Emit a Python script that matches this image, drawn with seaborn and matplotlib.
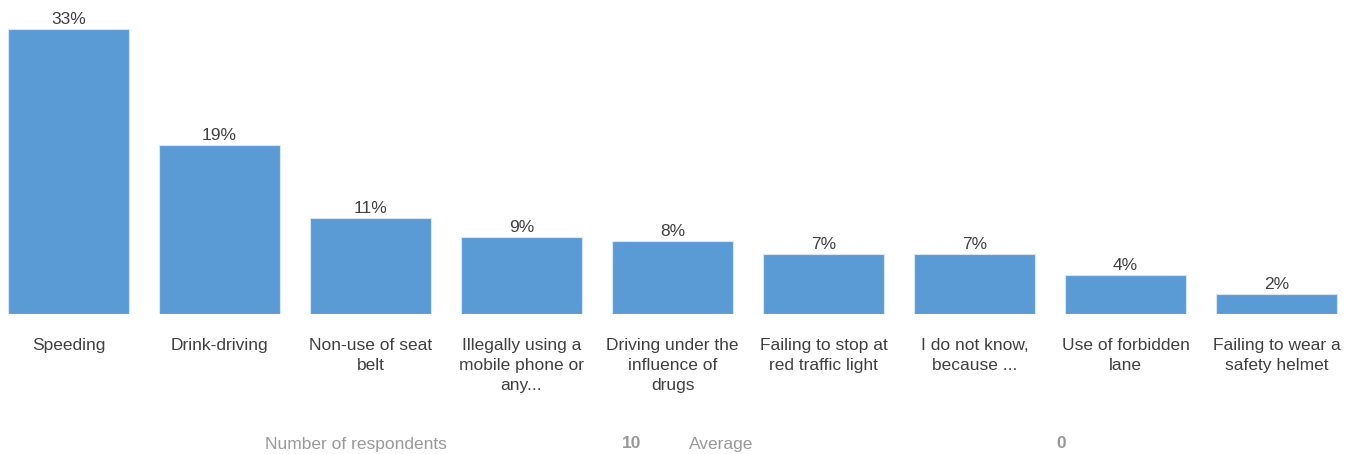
import pandas as pd
import seaborn as sns
import matplotlib.pyplot as plt

sns.set_theme(style="white")
plt.rcParams['font.family'] = ['Liberation Sans', 'DejaVu Sans']

# answers, bar heights (percent) and the printed labels
categories = ["Speeding", "Drink-driving", "Non-use of seat\nbelt",
              "Illegally using a\nmobile phone or\nany...",
              "Driving under the\ninfluence of\ndrugs",
              "Failing to stop at\nred traffic light", "I do not know,\nbecause ...",
              "Use of forbidden\nlane", "Failing to wear a\nsafety helmet"]
shares = [33.0, 19.6, 11.1, 8.9, 8.5, 6.9, 6.9, 4.5, 2.3]
share_labels = ["33%", "19%", "11%", "9%", "8%", "7%", "7%", "4%", "2%"]

n_respondents = 10
average = 0

df = pd.DataFrame({"answer": categories, "share": shares})

fig = plt.figure(figsize=(13.51, 4.54), dpi=100)
ax = fig.add_axes([0, 140 / 454, 1, 314 / 454])

sns.barplot(data=df, x="answer", y="share", color="#5B9BD5", saturation=1,
            width=0.8, edgecolor="#d6e6f5", linewidth=0.8, ax=ax)

ax.bar_label(ax.containers[0], labels=share_labels, padding=1.5,
             fontsize=12.5, color="#404040")

ax.set_xlim(-0.4536, 8.493)
ax.set_ylim(0, 36.4)
ax.set_xlabel("")
ax.set_ylabel("")
ax.set_yticks([])
ax.tick_params(axis="x", length=0, pad=17, labelsize=12.5, labelcolor="#404040")
for lab in ax.get_xticklabels():
    lab.set_linespacing(1.42)
sns.despine(ax=ax, left=True, bottom=True, top=True, right=True)

# footer line
fy = 1 - 444 / 454
fig.text(265 / 1351, fy, "Number of respondents", color="#999999",
         fontsize=12.5, va="center", ha="left")
fig.text(641 / 1351, fy, str(n_respondents), color="#999999",
         fontsize=12.5, va="center", ha="right", fontweight="bold")
fig.text(689 / 1351, fy, "Average", color="#999999",
         fontsize=12.5, va="center", ha="left")
fig.text(1066 / 1351, fy, str(average), color="#999999",
         fontsize=12.5, va="center", ha="right", fontweight="bold")

fig.savefig("out.png", dpi=100)
